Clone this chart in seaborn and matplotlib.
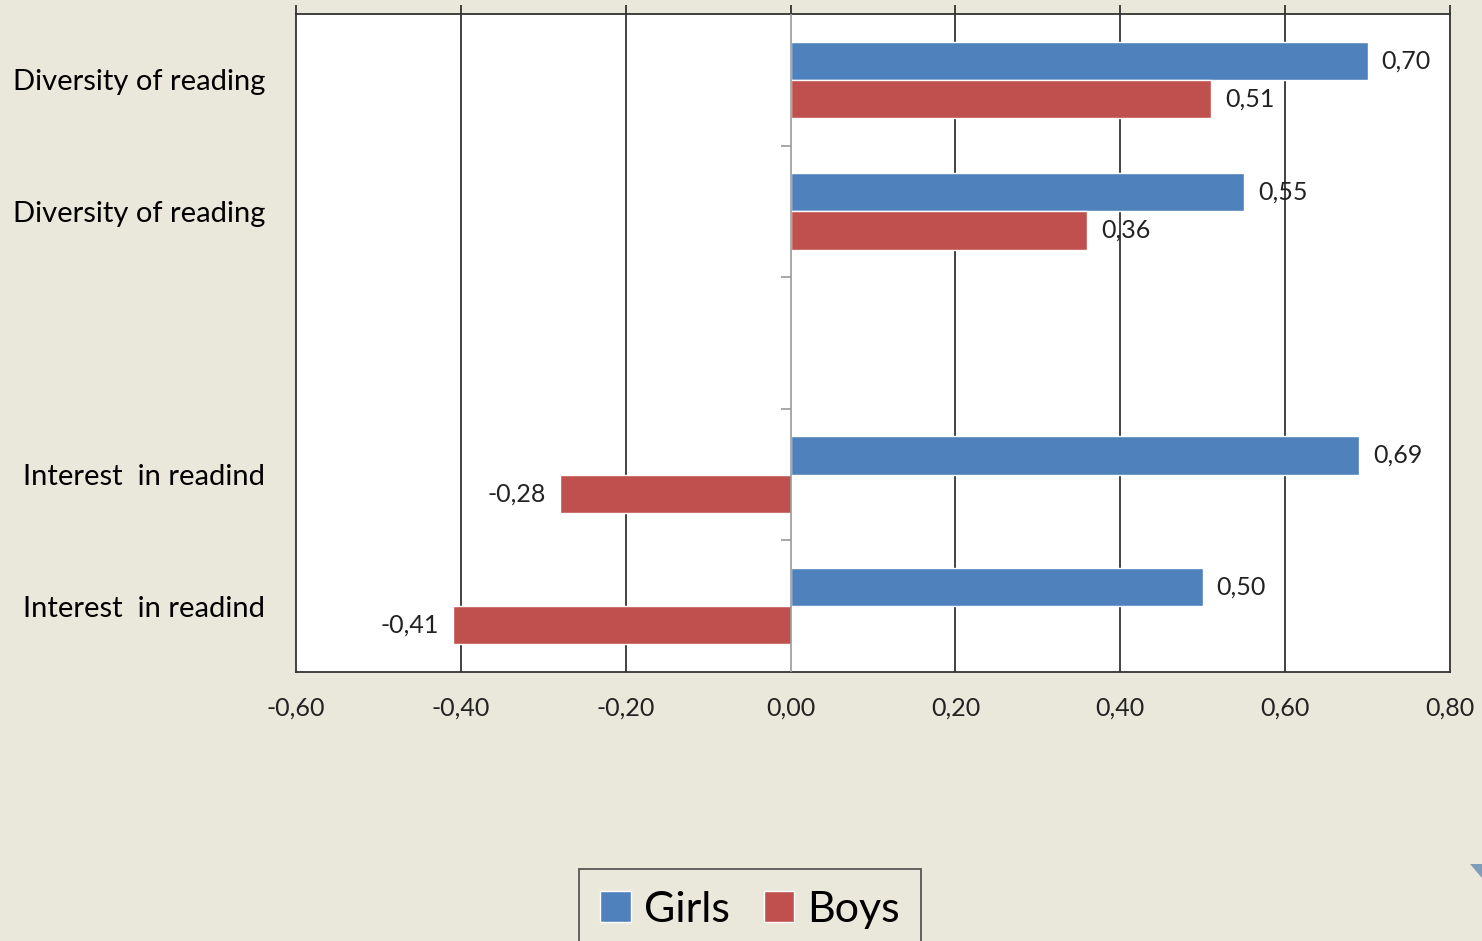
import matplotlib
matplotlib.use("Agg")
import matplotlib.pyplot as plt
import seaborn as sns
import pandas as pd
import numpy as np
from matplotlib.patches import Polygon

# ---- data ----
slot_keys = ["d1", "d2", "gap", "i1", "i2"]
slot_labels = ["Diversity of reading", "Diversity of reading", "",
               "Interest  in readind", "Interest  in readind"]
girls = [0.70, 0.55, np.nan, 0.69, 0.50]
boys = [0.51, 0.36, np.nan, -0.28, -0.41]
series = ["Girls", "Boys"]
x_ticks = [-0.60, -0.40, -0.20, 0.00, 0.20, 0.40, 0.60, 0.80]

BG = "#EAE7DB"
BLUE = "#4F81BD"
RED = "#C0504D"

sns.set_theme(style="white")
plt.rcParams["font.family"] = ["Lato", "DejaVu Sans"]

df = pd.DataFrame({
    "slot": slot_keys * 2,
    "value": girls + boys,
    "series": [series[0]] * len(slot_keys) + [series[1]] * len(slot_keys),
})

fig = plt.figure(figsize=(14.82, 9.41), dpi=100, facecolor=BG)
ax = fig.add_axes([296 / 1482, 1 - 672 / 941, (1450 - 296) / 1482, (672 - 14) / 941])
ax.set_facecolor("white")

sns.barplot(data=df, y="slot", x="value", hue="series", order=slot_keys,
            hue_order=series, palette=[BLUE, RED], orient="h", width=0.58,
            ax=ax, saturation=1, errorbar=None, legend=True)

ax.set_xlim(x_ticks[0], x_ticks[-1])
ax.set_ylim(4.5, -0.5)
ax.set_xticks(x_ticks)
ax.set_xticklabels([f"{t:.2f}".replace(".", ",") for t in x_ticks], fontsize=18, color="#222222")
ax.set_yticks(range(len(slot_keys)))
ax.set_yticklabels(slot_labels, fontsize=21, color="black")
ax.tick_params(axis="y", length=0, pad=22)
ax.tick_params(axis="x", which="major", top=True, bottom=False, direction="out",
               length=6.5, width=1.3, color="#333333", pad=11)
ax.set_xlabel("")
ax.set_ylabel("")

# gridlines
for t in x_ticks[1:-1]:
    if t == 0:
        continue
    ax.axvline(t, color="#333333", lw=1.3, zorder=0.5)
ax.axvline(0, color="#999999", lw=1.2, zorder=3)
ax.hlines([0.5, 1.5, 2.5, 3.5], xmin=-0.012, xmax=0, color="#999999", lw=1.2, zorder=3)

for s in ax.spines.values():
    s.set_visible(True)
    s.set_color("#333333")
    s.set_linewidth(1.3)

# value labels
for cont in ax.containers:
    for bar in cont:
        w = bar.get_width()
        if np.isnan(w):
            continue
        y = bar.get_y() + bar.get_height() / 2
        txt = f"{w:.2f}".replace(".", ",")
        if w >= 0:
            ax.annotate(txt, (w, y), xytext=(10, 0), textcoords="offset points",
                        ha="left", va="center", fontsize=18, color="#222222")
        else:
            ax.annotate(txt, (w, y), xytext=(-10, 0), textcoords="offset points",
                        ha="right", va="center", fontsize=18, color="#222222")

# legend
leg = ax.legend(loc="upper center", bbox_to_anchor=(750 / 1482, 1 - 869 / 941),
                bbox_transform=fig.transFigure, ncol=2, frameon=True,
                fontsize=31, handlelength=0.7, handleheight=0.7,
                handletextpad=0.3, columnspacing=0.8, borderpad=0.5,
                borderaxespad=0, fancybox=False, facecolor=BG, edgecolor="#333333",
                labelcolor="black")
leg.get_frame().set_linewidth(1.3)
leg.set_title(None)

# small corner decoration
fig.patches.append(Polygon([[1470 / 1482, 1 - 864 / 941], [1482 / 1482, 1 - 864 / 941],
                            [1482 / 1482, 1 - 878 / 941]], closed=True,
                           transform=fig.transFigure, facecolor="#7F9DB9", edgecolor="none"))

fig.savefig("out.png", dpi=100, facecolor=BG)
